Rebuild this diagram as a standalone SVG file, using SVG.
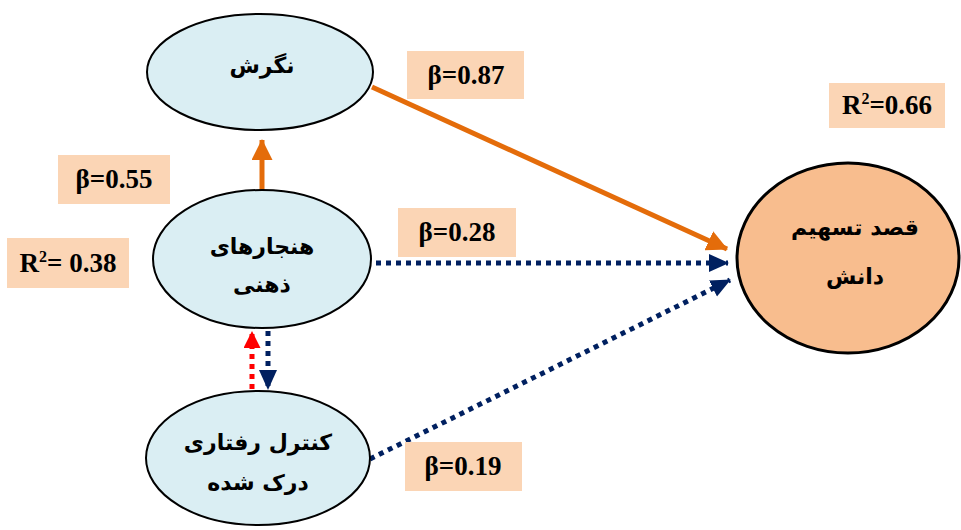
<svg xmlns="http://www.w3.org/2000/svg" width="961" height="530" viewBox="0 0 961 530">
<style>
.node{fill:#DAEEF3;stroke:#000;stroke-width:2}
.target{fill:#F8BD8E;stroke:#000;stroke-width:3}
.fa{font-family:"DejaVu Sans","Noto Sans",sans-serif;font-weight:bold;font-size:22px;fill:#000;text-anchor:middle}
.lbl{fill:#FBD5B5}
.lt{font-family:"Liberation Serif","Times New Roman",serif;font-weight:bold;font-size:27px;fill:#000;text-anchor:middle}
.solid{stroke:#E46C0A;stroke-width:5;fill:none}
.dot{stroke:#002060;stroke-width:5;fill:none;stroke-dasharray:5 5}
.dotr{stroke:#FF0000;stroke-width:5;fill:none;stroke-dasharray:5 5}
</style>
<defs>
<marker id="ao" markerWidth="21" markerHeight="21" refX="20" refY="10.5" orient="auto" markerUnits="userSpaceOnUse"><path d="M0,0 L21,10.5 L0,21 z" fill="#E46C0A"/></marker>
<marker id="ab" markerWidth="20" markerHeight="20" refX="19" refY="10" orient="auto" markerUnits="userSpaceOnUse"><path d="M0,1 L20,10 L0,19 z" fill="#002060"/></marker>
<marker id="ar" markerWidth="17" markerHeight="17" refX="16" refY="8.5" orient="auto" markerUnits="userSpaceOnUse"><path d="M0,0 L17,8.5 L0,17 z" fill="#FF0000"/></marker>
</defs>
<rect width="961" height="530" fill="#fff"/>
<g id="connectors">
<line class="solid" x1="262" y1="191" x2="262" y2="140" marker-end="url(#ao)"/>
<line class="solid" x1="372" y1="87" x2="727" y2="249" marker-end="url(#ao)"/>
<line class="dot" x1="376" y1="263" x2="728" y2="263" marker-end="url(#ab)"/>
<line class="dot" x1="370" y1="459" x2="730" y2="280" marker-end="url(#ab)"/>
<line class="dotr" x1="252" y1="389" x2="252" y2="332" marker-end="url(#ar)"/>
<line class="dot" x1="268" y1="331" x2="268" y2="389" marker-end="url(#ab)"/>
</g>
<g id="n1">
<ellipse class="node" cx="260" cy="72" rx="113" ry="58"/>
<text class="fa" x="262" y="73">نگرش</text>
</g>
<g id="n2">
<ellipse class="node" cx="262" cy="259" rx="109" ry="69"/>
<text class="fa" x="262" y="254">هنجارهای</text>
<text class="fa" x="262" y="292">ذهنی</text>
</g>
<g id="n3">
<ellipse class="node" cx="258" cy="458" rx="112" ry="67"/>
<text class="fa" x="258" y="450">کنترل رفتاری</text>
<text class="fa" x="258" y="490">درک شده</text>
</g>
<g id="n4">
<ellipse class="target" cx="848" cy="258" rx="111" ry="95"/>
<text class="fa" x="855" y="235">قصد تسهیم</text>
<text class="fa" x="855" y="284">دانش</text>
</g>
<g id="labels">
<rect class="lbl" x="407" y="51" width="117" height="48"/>
<text class="lt" x="466" y="84">β=0.87</text>
<rect class="lbl" x="829" y="83" width="116" height="45"/>
<text class="lt" x="887" y="114">R<tspan font-size="16" dy="-10">2</tspan><tspan dy="10">=0.66</tspan></text>
<rect class="lbl" x="58" y="155" width="112" height="49"/>
<text class="lt" x="114" y="188">β=0.55</text>
<rect class="lbl" x="7" y="238" width="122" height="50"/>
<text class="lt" x="68" y="272">R<tspan font-size="16" dy="-10">2</tspan><tspan dy="10">= 0.38</tspan></text>
<rect class="lbl" x="398" y="208" width="118" height="49"/>
<text class="lt" x="457" y="241">β=0.28</text>
<rect class="lbl" x="405" y="442" width="117" height="49"/>
<text class="lt" x="463" y="475">β=0.19</text>
</g>
</svg>
